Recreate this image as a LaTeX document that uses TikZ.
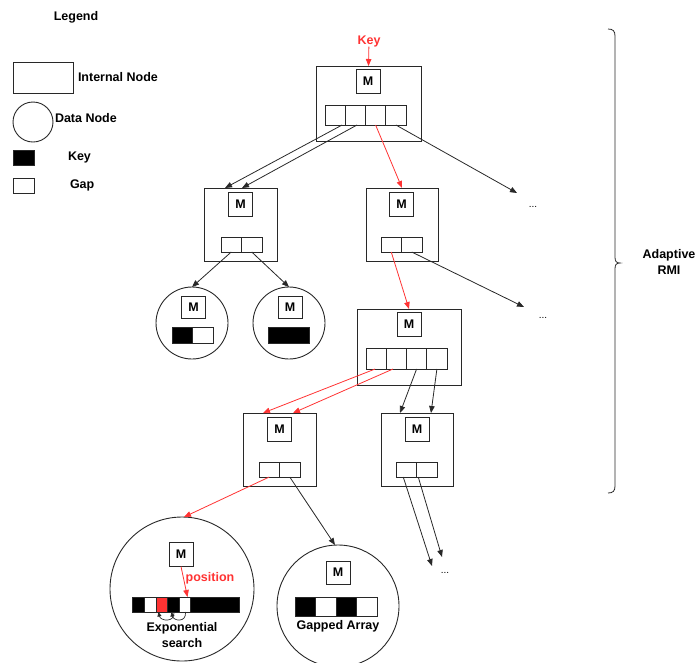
\documentclass[tikz,border=0pt]{standalone}
\usepackage{fontspec}
\setmainfont{Liberation Sans}
\usetikzlibrary{arrows.meta}
\definecolor{pathred}{RGB}{255,51,51}
\definecolor{edge}{RGB}{40,40,40}
\begin{document}
\begin{tikzpicture}[x=1pt,y=-1pt,
  every node/.style={font=\fontsize{12.5}{16}\selectfont\bfseries, inner sep=0pt, outer sep=0pt},
  box/.style={draw=edge, line width=0.9pt},
  mbox/.style={box, minimum width=24pt, minimum height=24pt},
  wcell/.style={box, minimum width=20.25pt, minimum height=20pt},
  ncell/.style={box, minimum width=20.5pt, minimum height=15pt},
  link/.style={draw=edge, line width=0.8pt, -{Triangle[length=7pt,width=5.5pt]}},
  redlink/.style={link, draw=pathred, -{Triangle[length=7pt,width=5.5pt,fill=pathred]}},
  hop/.style={draw=edge, line width=0.7pt, -{Triangle[length=4.5pt,width=4pt]}},
  dots/.style={font=\fontsize{10}{12}\selectfont}
]
\useasboundingbox (0,0) rectangle (698,662);

% ---------- legend ----------
\node (legend) at (76,17) {Legend};
\node[box, minimum width=60pt, minimum height=31pt] (lgint) at (43,77.5) {};
\node[anchor=west] (lgintt) at (78,77) {Internal Node};
\node[box, circle, minimum size=40pt] (lgdata) at (33,122) {};
\node[anchor=west] (lgdatat) at (55,118) {Data Node};
\node[box, fill=black, minimum width=21pt, minimum height=15pt] (lgkey) at (23.5,157.5) {};
\node[anchor=west] (lgkeyt) at (68,157) {Key};
\node[box, minimum width=21pt, minimum height=15pt] (lggap) at (23.5,185.5) {};
\node[anchor=west] (lggapt) at (70,185) {Gap};

% ---------- root ----------
\node[text=pathred] (key) at (369,41) {Key};
\node[box, minimum width=105pt, minimum height=75pt] (root) at (368.5,103.5) {};
\node[mbox] (rootm) at (368,81) {M};
\node[wcell] (r1) at (335.1,115) {};
\node[wcell] (r2) at (355.4,115) {};
\node[wcell] (r3) at (375.6,115) {};
\node[wcell] (r4) at (395.9,115) {};

% ---------- first level ----------
\node[box, minimum width=73pt, minimum height=73pt] (la) at (240.5,224.5) {};
\node[mbox] (lam) at (240.5,204) {M};
\node[ncell] (la1) at (231.25,244.5) {};
\node[ncell] (la2) at (251.75,244.5) {};

\node[box, minimum width=72pt, minimum height=73pt] (lb) at (402,224.5) {};
\node[mbox] (lbm) at (401.5,204) {M};
\node[ncell] (lb1) at (391.25,244.5) {};
\node[ncell] (lb2) at (411.75,244.5) {};

\node[dots] (dotsa) at (533,207) {...};
\coordinate (enda) at (517,193);

% ---------- data nodes under the left child ----------
\node[box, circle, minimum size=72pt] (da) at (192,323) {};
\node[mbox, minimum height=22pt] (dam) at (193.5,307.5) {M};
\node[ncell, minimum height=16pt, fill=black] (da1) at (182.25,335) {};
\node[ncell, minimum height=16pt] (da2) at (202.75,335) {};

\node[box, circle, minimum size=72pt] (db) at (289,323) {};
\node[mbox, minimum height=22pt] (dbm) at (290,307.5) {M};
\node[box, fill=black, minimum width=41pt, minimum height=16pt] (db1) at (288.5,335) {};

% ---------- second level ----------
\node[box, minimum width=104pt, minimum height=76pt] (lc) at (409,347) {};
\node[mbox] (lcm) at (409,324.5) {M};
\node[wcell, minimum height=21pt] (lc1) at (376.1,358.5) {};
\node[wcell, minimum height=21pt] (lc2) at (396.4,358.5) {};
\node[wcell, minimum height=21pt] (lc3) at (416.6,358.5) {};
\node[wcell, minimum height=21pt] (lc4) at (436.9,358.5) {};

\node[dots] (dotsb) at (543,318) {...};
\coordinate (endb) at (524,307);

% ---------- third level ----------
\node[box, minimum width=73pt, minimum height=73pt] (ld) at (279.5,449.5) {};
\node[mbox] (ldm) at (279.5,429) {M};
\node[ncell] (ld1) at (269.25,469.5) {};
\node[ncell] (ld2) at (289.75,469.5) {};

\node[box, minimum width=72pt, minimum height=73pt] (le) at (417,449.5) {};
\node[mbox] (lem) at (417,429) {M};
\node[ncell] (le1) at (406.25,469.5) {};
\node[ncell] (le2) at (426.75,469.5) {};

\node[dots] (dotsc) at (445,573) {...};
\coordinate (endc) at (432,566);
\coordinate (endd) at (442,557);

% ---------- leaf data node with exponential search ----------
\node[box, circle, minimum size=144pt] (dc) at (182,589) {};
\node[mbox] (dcm) at (181,554.5) {M};
\node[box, fill=black, minimum width=12pt, minimum height=15pt] (dc1) at (138,604.5) {};
\node[box, minimum width=12pt, minimum height=15pt] (dc2) at (150,604.5) {};
\node[box, fill=pathred, minimum width=11pt, minimum height=15pt] (dc3) at (161.5,604.5) {};
\node[box, fill=black, minimum width=12pt, minimum height=15pt] (dc4) at (173,604.5) {};
\node[box, minimum width=11pt, minimum height=15pt] (dc5) at (184.5,604.5) {};
\node[box, fill=black, minimum width=49pt, minimum height=15pt] (dc6) at (214.5,604.5) {};
\node[text=pathred] (pos) at (210,578) {position};
\node[align=center] (exps) at (182,635.5) {Exponential\\search};

% ---------- leaf data node with gapped array ----------
\node[box, circle, minimum size=122pt] (dd) at (338,606) {};
\node[mbox, minimum height=23pt] (ddm) at (338,572.5) {M};
\node[box, fill=black, minimum width=20.5pt, minimum height=19pt] (dd1) at (305.25,606.5) {};
\node[box, minimum width=20.5pt, minimum height=19pt] (dd2) at (325.75,606.5) {};
\node[box, fill=black, minimum width=20.5pt, minimum height=19pt] (dd3) at (346.25,606.5) {};
\node[box, minimum width=20.5pt, minimum height=19pt] (dd4) at (366.75,606.5) {};
\node (gapped) at (338,626) {Gapped Array};

% ---------- brace and its label ----------
\draw[draw=edge, line width=0.8pt] (608,29) .. controls (613,29) and (615,31) .. (615,36)
  -- (615,257) .. controls (615,261) and (616,263) .. (620,263)
  .. controls (616,263) and (615,265) .. (615,269)
  -- (615,486) .. controls (615,491) and (613,493) .. (608,493);
\node[align=center] (armi) at (669,262) {Adaptive\\RMI};

% ---------- connectors ----------
\draw[redlink] (key) -- (root.north);
\draw[link] ([xshift=7pt]r1.south) -- ([xshift=-15.5pt]la.north);
\draw[link] ([xshift=1.6pt]r2.south) -- ([xshift=1.5pt]la.north);
\draw[redlink] (r3.south) -- (lb.north);
\draw[link] (r4.south) -- (enda);

\draw[link] (la1.south) -- (da.north);
\draw[link] (la2.south) -- (db.north);
\draw[redlink] (lb1.south) -- (lc.north);
\draw[link] (lb2.south) -- (endb);

\draw[redlink] ([xshift=-1pt]lc1.south) -- ([xshift=-16.5pt]ld.north);
\draw[redlink] ([xshift=-3.4pt]lc2.south) -- ([xshift=13.5pt]ld.north);
\draw[link] (lc3.south) -- ([xshift=-17pt]le.north);
\draw[link] (lc4.south) -- ([xshift=14pt]le.north);

\draw[redlink] (ld1.south) -- ([xshift=2pt]dc.north);
\draw[link] (ld2.south) -- ([xshift=-3pt]dd.north);
\draw[link] ([xshift=-3pt]le1.south) -- (endc);
\draw[link] ([xshift=-8.5pt]le2.south) -- (endd);

% exponential search hops below the array
\draw[redlink] (dcm.south) -- ([xshift=3pt]dc5.north);
\draw[hop] ([xshift=1pt]dc4.south) .. controls +(1,11) and +(2,9) .. ([xshift=-3pt]dc3.south);
\draw[hop] ([xshift=1pt]dc5.south) .. controls +(1,11) and +(2,9) .. ([xshift=-1.5pt]dc4.south);
\end{tikzpicture}
\end{document}
